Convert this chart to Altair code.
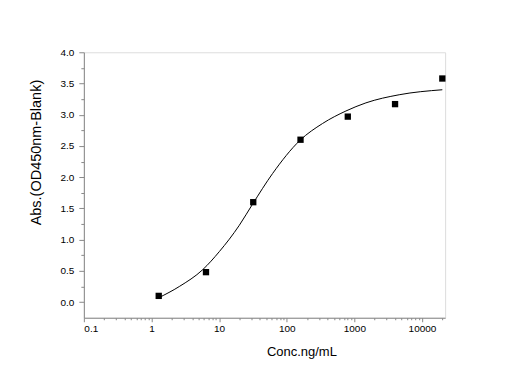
import altair as alt
import pandas as pd

# measured points (5-fold dilution series)
conc = [1.28, 6.4, 32, 160, 800, 4000, 20000]
absorb = [0.10, 0.48, 1.60, 2.60, 2.97, 3.17, 3.58]

# fitted curve
fit_conc = [1.28, 2.58, 5.73, 10.1, 19.9, 31.3, 61.9, 157, 339, 751, 1483, 4603, 20000]
fit_abs = [0.07, 0.25, 0.52, 0.81, 1.23, 1.57, 2.06, 2.59, 2.86, 3.06, 3.19, 3.32, 3.40]

x_major = [0.1, 1, 10, 100, 1000, 10000]
x_minor = [0.2, 0.3, 0.4, 0.5, 0.6, 0.7, 0.8, 0.9,
           2, 3, 4, 5, 6, 7, 8, 9,
           20, 30, 40, 50, 60, 70, 80, 90,
           200, 300, 400, 500, 600, 700, 800, 900,
           2000, 3000, 4000, 5000, 6000, 7000, 8000, 9000,
           20000]
y_major = [0.0, 0.5, 1.0, 1.5, 2.0, 2.5, 3.0, 3.5, 4.0]
y_minor = [0.25, 0.75, 1.25, 1.75, 2.25, 2.75, 3.25, 3.75]

pts = pd.DataFrame({"conc": conc, "abs": absorb})
fit = pd.DataFrame({"conc": fit_conc, "abs": fit_abs})

xscale = alt.Scale(type="log", domain=[0.1, 22000], nice=False)
yscale = alt.Scale(domain=[-0.25, 4.0], nice=False, zero=False)

FONT = "Liberation Sans"

x_main = alt.Axis(values=x_major, format="~g", orient="bottom", tickSize=4,
                  labelPadding=2, labelFontSize=10, title="Conc.ng/mL",
                  titleFontSize=13, titleFontWeight="normal", titleX=218, titleY=38,
                  titleAlign="center", titleBaseline="alphabetic", grid=False)
y_main = alt.Axis(values=y_major, format=".1f", orient="left", tickSize=5,
                  labelPadding=5, labelFontSize=10, title="Abs.(OD450nm-Blank)",
                  titleFontSize=14.5, titleFontWeight="normal", titleX=-43, titleY=100,
                  titleAngle=-90, titleAlign="center", titleBaseline="alphabetic", grid=False)

x_min = alt.Axis(values=x_minor, labels=False, domain=False, orient="bottom",
                 tickSize=2, title=None, grid=False)
y_min = alt.Axis(values=y_minor, labels=False, domain=False, orient="left",
                 tickSize=3, title=None, grid=False)

line = alt.Chart(fit).mark_line(color="black", strokeWidth=1, interpolate="monotone").encode(
    x=alt.X("conc:Q", scale=xscale, axis=x_main),
    y=alt.Y("abs:Q", scale=yscale, axis=y_main),
)

points = alt.Chart(pts).mark_point(shape="square", filled=True, size=40,
                                   color="black", opacity=1).encode(
    x=alt.X("conc:Q", scale=xscale, axis=x_min),
    y=alt.Y("abs:Q", scale=yscale, axis=y_min),
)

chart = alt.layer(line, points).resolve_axis(x="independent", y="independent").properties(
    width=362, height=266,
    autosize=alt.AutoSizeParams(type="none"),
    padding={"left": 76, "top": 44, "right": 60, "bottom": 55},
).configure_view(stroke=None).configure_axis(
    domainColor="black", tickColor="black", labelColor="black", titleColor="black",
    labelFont=FONT, titleFont=FONT, domainWidth=1, tickWidth=1,
).configure(background="white")

chart.save("out.html", embed_options={"renderer": "svg", "actions": False})
